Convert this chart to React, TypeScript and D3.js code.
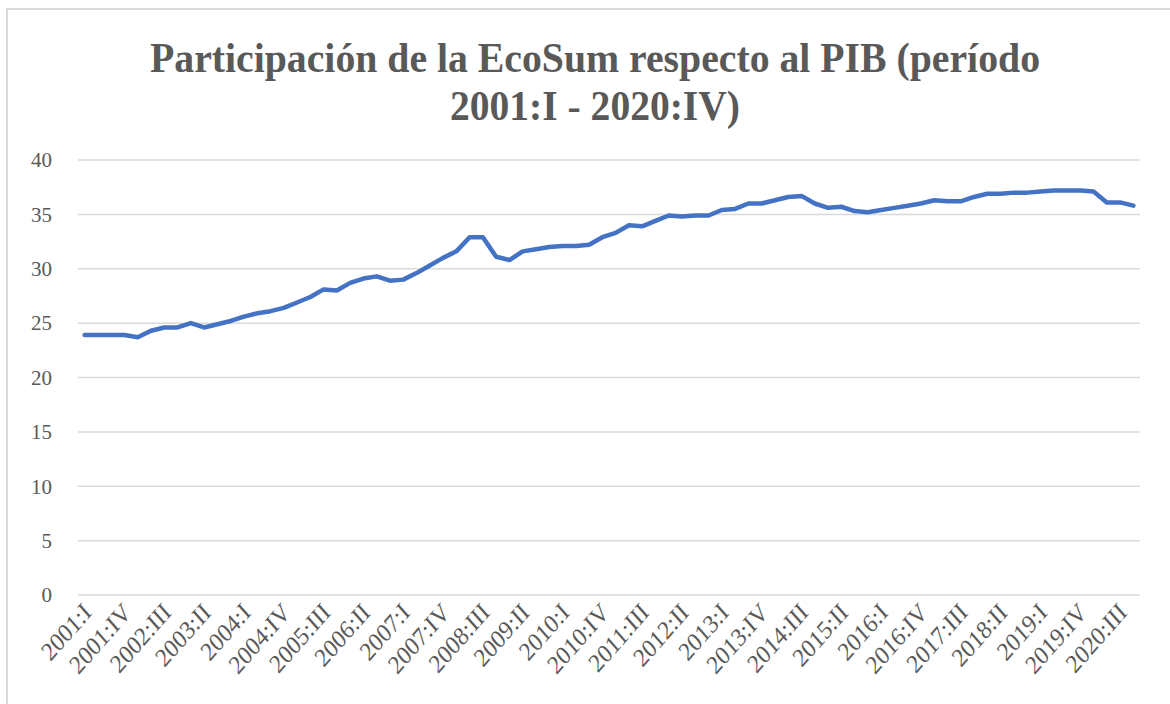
import React from "react";
import * as d3 from "d3";

const romans = ["I", "II", "III", "IV"];
const years = d3.range(2001, 2021);
const categories: string[] = years.flatMap((y) => romans.map((r) => `${y}:${r}`));
const values: number[] = [
  23.9, 23.9, 23.9, 23.9, 23.7, 24.3, 24.6, 24.6, 25.0, 24.6,
  24.9, 25.2, 25.6, 25.9, 26.1, 26.4, 26.9, 27.4, 28.1, 28.0,
  28.7, 29.1, 29.3, 28.9, 29.0, 29.6, 30.3, 31.0, 31.6, 32.9,
  32.9, 31.1, 30.8, 31.6, 31.8, 32.0, 32.1, 32.1, 32.2, 32.9,
  33.3, 34.0, 33.9, 34.4, 34.9, 34.8, 34.9, 34.9, 35.4, 35.5,
  36.0, 36.0, 36.3, 36.6, 36.7, 36.0, 35.6, 35.7, 35.3, 35.2,
  35.4, 35.6, 35.8, 36.0, 36.3, 36.2, 36.2, 36.6, 36.9, 36.9,
  37.0, 37.0, 37.1, 37.2, 37.2, 37.2, 37.1, 36.1, 36.1, 35.8,
];
const yTicks = [0, 5, 10, 15, 20, 25, 30, 35, 40];
const tickLabels = categories.filter((_, i) => i % 3 === 0);
const titleLines = ["Participación de la EcoSum respecto al PIB (período", "2001:I - 2020:IV)"];

export default function App() {
  const W = 1170, H = 704;
  const left = 78, right = 1140, top = 160, bottom = 595;
  const x = d3.scaleBand<string>().domain(categories).range([left, right]);
  const y = d3.scaleLinear().domain([0, 40]).range([bottom, top]);
  const cx = (c: string) => (x(c) as number) + x.bandwidth() / 2;
  const line = d3
    .line<number>()
    .x((_, i) => cx(categories[i]))
    .y((d) => y(d))
    .curve(d3.curveLinear);
  const grey = "#595959";
  const serif = "'Times New Roman', 'Liberation Serif', serif";
  const titleWidths = [890, 290];
  return (
    <svg width={W} height={H} style={{ position: "absolute", left: 0, top: 0, background: "#fff" }}>
      <rect x={7} y={9} width={1200} height={740} fill="#fff" stroke="#d9d9d9" strokeWidth={2} />
      {titleLines.map((t, i) => (
        <text
          key={i}
          x={595}
          y={72 + i * 48}
          textAnchor="middle"
          fontFamily={serif}
          fontWeight={700}
          fontSize={42}
          fill={grey}
          textLength={titleWidths[i]}
          lengthAdjust="spacingAndGlyphs"
        >
          {t}
        </text>
      ))}
      {yTicks.map((t) => (
        <g key={t}>
          <line x1={left} x2={right} y1={y(t)} y2={y(t)} stroke="#d9d9d9" strokeWidth={1.5} />
          <text
            x={52}
            y={y(t)}
            dy="0.35em"
            textAnchor="end"
            fontFamily={serif}
            fontSize={21}
            fill={grey}
          >
            {t}
          </text>
        </g>
      ))}
      {tickLabels.map((c) => (
        <text
          key={c}
          transform={`translate(${cx(c) + 8},${bottom + 19}) scale(0.88,1) rotate(-45)`}
          textAnchor="end"
          fontFamily={serif}
          fontSize={26}
          fill={grey}
        >
          {c}
        </text>
      ))}
      <path
        d={line(values) || ""}
        fill="none"
        stroke="#4472C4"
        strokeWidth={4.5}
        strokeLinejoin="round"
        strokeLinecap="round"
      />
    </svg>
  );
}
